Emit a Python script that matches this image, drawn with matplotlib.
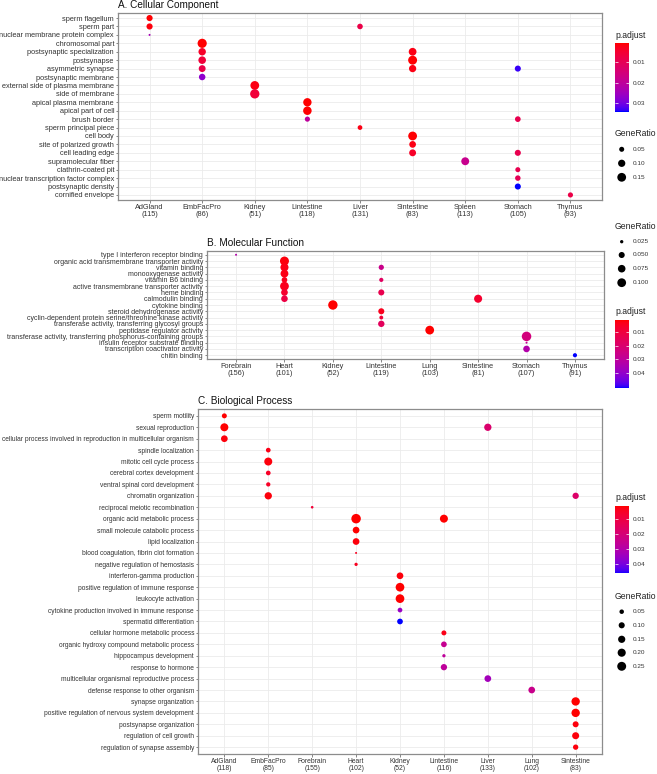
import numpy as np
import matplotlib
matplotlib.use("Agg")
import matplotlib.pyplot as plt
from matplotlib.colors import ListedColormap, Normalize
from matplotlib.cm import ScalarMappable
from matplotlib.ticker import FormatStrFormatter

plt.rcParams["font.family"] = ["Liberation Sans", "DejaVu Sans"]

W, H = 657, 774
TXT = "#333333"

# ---------------- A. Cellular Component ----------------
A_clusters = ["AdGland", "EmbFacPro", "Kidney", "Lintestine", "Liver", "Sintestine", "Spleen", "Stomach", "Thymus"]
A_counts = [115, 86, 51, 118, 131, 83, 113, 105, 93]
A_terms = ["sperm flagellum", "sperm part", "nuclear membrane protein complex", "chromosomal part",
           "postsynaptic specialization", "postsynapse", "asymmetric synapse", "postsynaptic membrane",
           "external side of plasma membrane", "side of membrane", "apical plasma membrane",
           "apical part of cell", "brush border", "sperm principal piece", "cell body",
           "site of polarized growth", "cell leading edge", "supramolecular fiber", "clathrin-coated pit",
           "nuclear transcription factor complex", "postsynaptic density", "cornified envelope"]
A_col = ["AdGland", "AdGland", "AdGland",
         "EmbFacPro", "EmbFacPro", "EmbFacPro", "EmbFacPro", "EmbFacPro",
         "Kidney", "Kidney",
         "Lintestine", "Lintestine", "Lintestine",
         "Liver", "Liver",
         "Sintestine", "Sintestine", "Sintestine", "Sintestine", "Sintestine", "Sintestine",
         "Spleen",
         "Stomach", "Stomach", "Stomach", "Stomach", "Stomach", "Stomach",
         "Thymus"]
A_term = ["sperm flagellum", "sperm part", "nuclear membrane protein complex",
          "chromosomal part", "postsynaptic specialization", "postsynapse", "asymmetric synapse", "postsynaptic membrane",
          "external side of plasma membrane", "side of membrane",
          "apical plasma membrane", "apical part of cell", "brush border",
          "sperm part", "sperm principal piece",
          "postsynaptic specialization", "postsynapse", "asymmetric synapse", "cell body", "site of polarized growth", "cell leading edge",
          "supramolecular fiber",
          "asymmetric synapse", "brush border", "cell leading edge", "clathrin-coated pit", "nuclear transcription factor complex", "postsynaptic density",
          "cornified envelope"]
A_ratio = [0.072, 0.072, 0.025,
           0.165, 0.105, 0.11, 0.09, 0.08,
           0.15, 0.17,
           0.135, 0.14, 0.052,
           0.06, 0.045,
           0.115, 0.155, 0.10, 0.15, 0.085, 0.09,
           0.12,
           0.07, 0.062, 0.07, 0.05, 0.058, 0.07,
           0.052]
A_padj = [0.001, 0.0015, 0.024,
          0.0008, 0.004, 0.006, 0.008, 0.027,
          0.002, 0.006,
          0.0008, 0.001, 0.02,
          0.008, 0.002,
          0.002, 0.001, 0.002, 0.001, 0.002, 0.004,
          0.018,
          0.033, 0.009, 0.009, 0.009, 0.01, 0.034,
          0.008]

# ---------------- B. Molecular Function ----------------
B_clusters = ["Forebrain", "Heart", "Kidney", "Lintestine", "Lung", "Sintestine", "Stomach", "Thymus"]
B_counts = [156, 101, 52, 119, 103, 81, 107, 91]
B_terms = ["type I interferon receptor binding", "organic acid transmembrane transporter activity",
           "vitamin binding", "monooxygenase activity", "vitamin B6 binding",
           "active transmembrane transporter activity", "heme binding", "calmodulin binding",
           "cytokine binding", "steroid dehydrogenase activity",
           "cyclin-dependent protein serine/threonine kinase activity",
           "transferase activity, transferring glycosyl groups", "peptidase regulator activity",
           "transferase activity, transferring phosphorus-containing groups",
           "insulin receptor substrate binding", "transcription coactivator activity", "chitin binding"]
B_col = ["Forebrain",
         "Heart", "Heart", "Heart", "Heart", "Heart", "Heart", "Heart",
         "Kidney",
         "Lintestine", "Lintestine", "Lintestine", "Lintestine", "Lintestine", "Lintestine",
         "Lung", "Sintestine",
         "Stomach", "Stomach", "Stomach",
         "Thymus"]
B_term = ["type I interferon receptor binding",
          "organic acid transmembrane transporter activity", "vitamin binding", "monooxygenase activity",
          "vitamin B6 binding", "active transmembrane transporter activity", "heme binding", "calmodulin binding",
          "cytokine binding",
          "vitamin binding", "vitamin B6 binding", "heme binding", "steroid dehydrogenase activity",
          "cyclin-dependent protein serine/threonine kinase activity",
          "transferase activity, transferring glycosyl groups",
          "peptidase regulator activity", "calmodulin binding",
          "transferase activity, transferring phosphorus-containing groups",
          "insulin receptor substrate binding", "transcription coactivator activity",
          "chitin binding"]
B_ratio = [0.022,
           0.105, 0.085, 0.08, 0.045, 0.10, 0.06, 0.058,
           0.115,
           0.04, 0.03, 0.05, 0.05, 0.028, 0.055,
           0.10, 0.085,
           0.118, 0.022, 0.058,
           0.03]
B_padj = [0.033,
          0.002, 0.003, 0.003, 0.004, 0.004, 0.007, 0.011,
          0.001,
          0.026, 0.017, 0.013, 0.004, 0.009, 0.016,
          0.001, 0.007,
          0.023, 0.028, 0.033,
          0.051]

# ---------------- C. Biological Process ----------------
C_clusters = ["AdGland", "EmbFacPro", "Forebrain", "Heart", "Kidney", "Lintestine", "Liver", "Lung", "Sintestine"]
C_counts = [118, 85, 155, 102, 52, 116, 133, 102, 83]
C_terms = ["sperm motility", "sexual reproduction",
           "cellular process involved in reproduction in multicellular organism",
           "spindle localization", "mitotic cell cycle process", "cerebral cortex development",
           "ventral spinal cord development", "chromatin organization", "reciprocal meiotic recombination",
           "organic acid metabolic process", "small molecule catabolic process", "lipid localization",
           "blood coagulation, fibrin clot formation", "negative regulation of hemostasis",
           "interferon-gamma production", "positive regulation of immune response", "leukocyte activation",
           "cytokine production involved in immune response", "spermatid differentiation",
           "cellular hormone metabolic process", "organic hydroxy compound metabolic process",
           "hippocampus development", "response to hormone",
           "multicellular organismal reproductive process", "defense response to other organism",
           "synapse organization", "positive regulation of nervous system development",
           "postsynapse organization", "regulation of cell growth", "regulation of synapse assembly"]
C_col = ["AdGland", "AdGland", "AdGland",
         "EmbFacPro", "EmbFacPro", "EmbFacPro", "EmbFacPro", "EmbFacPro",
         "Forebrain",
         "Heart", "Heart", "Heart", "Heart", "Heart",
         "Kidney", "Kidney", "Kidney", "Kidney", "Kidney",
         "Lintestine", "Lintestine", "Lintestine", "Lintestine", "Lintestine",
         "Liver", "Liver",
         "Lung",
         "Sintestine", "Sintestine", "Sintestine", "Sintestine", "Sintestine", "Sintestine"]
C_term = ["sperm motility", "sexual reproduction",
          "cellular process involved in reproduction in multicellular organism",
          "spindle localization", "mitotic cell cycle process", "cerebral cortex development",
          "ventral spinal cord development", "chromatin organization",
          "reciprocal meiotic recombination",
          "organic acid metabolic process", "small molecule catabolic process", "lipid localization",
          "blood coagulation, fibrin clot formation", "negative regulation of hemostasis",
          "interferon-gamma production", "positive regulation of immune response", "leukocyte activation",
          "cytokine production involved in immune response", "spermatid differentiation",
          "organic acid metabolic process", "cellular hormone metabolic process",
          "organic hydroxy compound metabolic process", "hippocampus development", "response to hormone",
          "sexual reproduction", "multicellular organismal reproductive process",
          "defense response to other organism",
          "chromatin organization", "synapse organization", "positive regulation of nervous system development",
          "postsynapse organization", "regulation of cell growth", "regulation of synapse assembly"]
C_ratio = [0.063, 0.193, 0.126,
           0.055, 0.193, 0.055, 0.045, 0.155,
           0.022,
           0.29, 0.126, 0.126, 0.02, 0.028,
           0.126, 0.236, 0.236, 0.055, 0.086,
           0.193, 0.063, 0.086, 0.028, 0.109,
           0.155, 0.126,
           0.126,
           0.109, 0.215, 0.215, 0.096, 0.141, 0.073]
C_padj = [0.001, 0.001, 0.002,
          0.003, 0.002, 0.005, 0.005, 0.002,
          0.008,
          0.001, 0.001, 0.002, 0.004, 0.004,
          0.002, 0.001, 0.001, 0.035, 0.046,
          0.001, 0.003, 0.025, 0.027, 0.027,
          0.018, 0.033,
          0.024,
          0.017, 0.001, 0.001, 0.002, 0.002, 0.002]


# red -> blue gradient interpolated in CIELAB, like ggplot
M = np.array([[0.4124, 0.3576, 0.1805], [0.2126, 0.7152, 0.0722], [0.0193, 0.1192, 0.9505]])
WP = np.array([0.95047, 1.0, 1.08883])


def to_lab(rgb):
    rgb = np.asarray(rgb, float)
    lin = np.where(rgb <= 0.04045, rgb / 12.92, ((rgb + 0.055) / 1.055) ** 2.4)
    xyz = M @ lin / WP
    f = np.where(xyz > 0.008856, np.cbrt(xyz), 7.787 * xyz + 16 / 116)
    return np.array([116 * f[1] - 16, 500 * (f[0] - f[1]), 200 * (f[1] - f[2])])


def from_lab(lab):
    fy = (lab[0] + 16) / 116
    f = np.array([fy + lab[1] / 500, fy, fy - lab[2] / 200])
    xyz = np.where(f ** 3 > 0.008856, f ** 3, (f - 16 / 116) / 7.787) * WP
    lin = np.clip(np.linalg.solve(M, xyz), 0, 1)
    return np.clip(np.where(lin <= 0.0031308, 12.92 * lin, 1.055 * lin ** (1 / 2.4) - 0.055), 0, 1)


lo_lab, hi_lab = to_lab([1, 0, 0]), to_lab([0, 0, 1])
cmap = ListedColormap([from_lab(lo_lab + t * (hi_lab - lo_lab)) for t in np.linspace(0, 1, 256)])

fig = plt.figure(figsize=(W / 100, H / 100), dpi=100)
ov = fig.add_axes([0, 0, 1, 1], zorder=5)
ov.set_xlim(0, W)
ov.set_ylim(H, 0)
ov.axis("off")


def px_to_s(d):
    return (np.asarray(d) * 0.72) ** 2


def panel(box, title, clusters, counts, terms, col, term, ratio, padj, dlim, fs_y, fs_x):
    l, t, r, b = box
    ax = fig.add_axes([l / W, 1 - b / H, (r - l) / W, (b - t) / H])
    ratio = np.array(ratio)
    rlo, rhi = ratio.min(), ratio.max()

    def diam(v):
        return dlim[0] + (dlim[1] - dlim[0]) * np.sqrt((np.asarray(v) - rlo) / (rhi - rlo))

    norm = Normalize(min(padj), max(padj))
    xs = [clusters.index(c) for c in col]
    ys = [terms.index(tm) for tm in term]
    ax.scatter(xs, ys, s=px_to_s(diam(ratio)), c=padj, cmap=cmap, norm=norm, linewidths=0, zorder=3)
    ax.set_xlim(-0.6, len(clusters) - 0.4)
    ax.set_ylim(len(terms) - 0.4, -0.6)
    ax.set_xticks(range(len(clusters)))
    ax.set_xticklabels([f"{c}\n({n})" for c, n in zip(clusters, counts)], fontsize=fs_x, color=TXT)
    for lb in ax.get_xticklabels():
        lb.set_linespacing(1.0)
    ax.set_yticks(range(len(terms)))
    ax.set_yticklabels(terms, fontsize=fs_y, color=TXT)
    ax.tick_params(length=1.8, width=0.5, color="#555555", pad=1)
    ax.grid(True, color="#ebebeb", lw=0.6)
    ax.set_axisbelow(True)
    for sp in ax.spines.values():
        sp.set_color("#8c8c8c")
        sp.set_linewidth(0.9)
    ov.text(l, t - 8, title, fontsize=7.2, va="center", ha="left", color="#111111")
    return diam, norm


def size_legend(diam, title_y, ys, vals, labels):
    ov.text(615, title_y, "GeneRatio", fontsize=6.2, va="center", ha="left", color="#222222")
    ov.scatter([621.7] * len(ys), ys, s=px_to_s(diam(vals)), c="black", linewidths=0)
    for y, lab in zip(ys, labels):
        ov.text(632.7, y, lab, fontsize=4.6, va="center", ha="left", color=TXT)


def color_legend(norm, title_y, top, bottom, ticks):
    ov.text(615, title_y, "p.adjust", fontsize=6.2, va="center", ha="left", color="#222222")
    cax = fig.add_axes([615 / W, 1 - bottom / H, 14 / W, (bottom - top) / H])
    cb = fig.colorbar(ScalarMappable(norm=norm, cmap=cmap), cax=cax)
    cax.invert_yaxis()
    cb.outline.set_visible(False)
    cb.set_ticks(ticks)
    cax.yaxis.set_major_formatter(FormatStrFormatter("%.2f"))
    cax.tick_params(direction="in", length=2.5, width=0.5, color="white", left=True, right=True,
                    labelsize=4.6, labelcolor=TXT, pad=2.5)


dA, nA = panel((118, 13, 602, 200), "A. Cellular Component", A_clusters, A_counts, A_terms,
               A_col, A_term, A_ratio, A_padj, (2.0, 9.3), 5.3, 5.3)
color_legend(nA, 35, 43.3, 111.7, [0.01, 0.02, 0.03])
size_legend(dA, 133, [149.3, 163.3, 177.3], [0.05, 0.10, 0.15], ["0.05", "0.10", "0.15"])

dB, nB = panel((207, 251, 604, 359), "B. Molecular Function", B_clusters, B_counts, B_terms,
               B_col, B_term, B_ratio, B_padj, (2.0, 9.5), 5.0, 5.3)
size_legend(dB, 226.7, [241.7, 255, 268.7, 282.7], [0.025, 0.05, 0.075, 0.10],
            ["0.025", "0.050", "0.075", "0.100"])
color_legend(nB, 311.7, 320, 388, [0.01, 0.02, 0.03, 0.04])

dC, nC = panel((198, 409, 602, 754), "C. Biological Process", C_clusters, C_counts, C_terms,
               C_col, C_term, C_ratio, C_padj, (2.0, 9.5), 4.75, 4.9)
color_legend(nC, 497.3, 506, 573.3, [0.01, 0.02, 0.03, 0.04])
size_legend(dC, 596.7, [611.7, 625.3, 639.3, 652.7, 666.3], [0.05, 0.10, 0.15, 0.20, 0.25],
            ["0.05", "0.10", "0.15", "0.20", "0.25"])

fig.savefig("out.png", dpi=100)
